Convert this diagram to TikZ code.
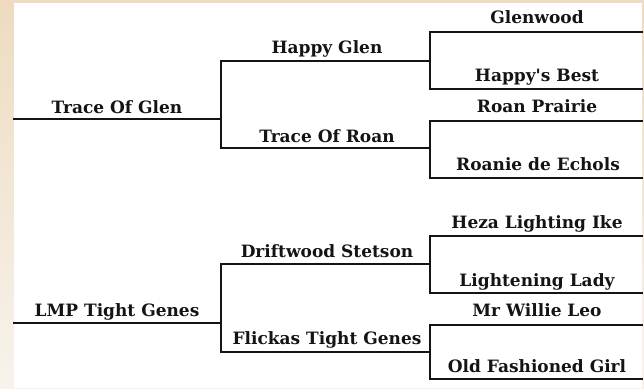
\documentclass[tikz,border=0pt]{standalone}
\usepackage{fontspec}
\setmainfont{DejaVu Serif}[Ligatures=TeXOff]
\definecolor{beigeA}{HTML}{EEDBC0}
\definecolor{beigeB}{HTML}{F7F3EC}
\definecolor{ink}{HTML}{141414}
\tikzset{
  link/.style={draw=ink, line width=2pt, line cap=rect},
  lbl/.style={font=\fontsize{17}{18}\selectfont\bfseries, text=ink, anchor=base, inner sep=0pt},
}
\begin{document}
\begin{tikzpicture}[x=1pt,y=-1pt]
\useasboundingbox (0,0) rectangle (644,388);
\shade[top color=beigeA, bottom color=beigeB] (0,0) rectangle (644,388);
\fill[white] (14,3) rectangle (642,388);
% coordinates
\coordinate (r1L) at (14,119);  \coordinate (r1R) at (221,119);
\coordinate (r2L) at (14,323);  \coordinate (r2R) at (221,323);
\coordinate (a1) at (221,61);   \coordinate (a1R) at (430,61);
\coordinate (a2) at (221,148);  \coordinate (a2R) at (430,148);
\coordinate (b1) at (221,264);  \coordinate (b1R) at (430,264);
\coordinate (b2) at (221,352);  \coordinate (b2R) at (430,352);
\coordinate (g1) at (430,32);   \coordinate (g1R) at (642,32);
\coordinate (g2) at (430,89);   \coordinate (g2R) at (642,89);
\coordinate (g3) at (430,121);  \coordinate (g3R) at (642,121);
\coordinate (g4) at (430,178);  \coordinate (g4R) at (642,178);
\coordinate (g5) at (430,236);  \coordinate (g5R) at (642,236);
\coordinate (g6) at (430,293);  \coordinate (g6R) at (642,293);
\coordinate (g7) at (430,325);  \coordinate (g7R) at (642,325);
\coordinate (g8) at (430,379);  \coordinate (g8R) at (642,379);
% lines
\draw[link] (r1L) -- (r1R);
\draw[link] (a1R) -- (a1) -- (a2) -- (a2R);
\draw[link] (g1R) -- (g1) -- (g2) -- (g2R);
\draw[link] (g3R) -- (g3) -- (g4) -- (g4R);
\draw[link] (r2L) -- (r2R);
\draw[link] (b1R) -- (b1) -- (b2) -- (b2R);
\draw[link] (g5R) -- (g5) -- (g6) -- (g6R);
\draw[link] (g7R) -- (g7) -- (g8) -- (g8R);
% labels
\node[lbl] (t1) at (117,113) {Trace Of Glen};
\node[lbl] (t2) at (327,53) {Happy Glen};
\node[lbl] (t3) at (327,142) {Trace Of Roan};
\node[lbl] (t4) at (537,23) {Glenwood};
\node[lbl] (t5) at (537,81) {Happy's Best};
\node[lbl] (t6) at (537,112) {Roan Prairie};
\node[lbl] (t7) at (538,170) {Roanie de Echols};
\node[lbl] (t8) at (117,316) {LMP Tight Genes};
\node[lbl] (t9) at (327,257) {Driftwood Stetson};
\node[lbl] (t10) at (327,344) {Flickas Tight Genes};
\node[lbl] (t11) at (537,228) {Heza Lighting Ike};
\node[lbl] (t12) at (537,286) {Lightening Lady};
\node[lbl] (t13) at (537,316) {Mr Willie Leo};
\node[lbl] (t14) at (537,372) {Old Fashioned Girl};
\end{tikzpicture}
\end{document}
